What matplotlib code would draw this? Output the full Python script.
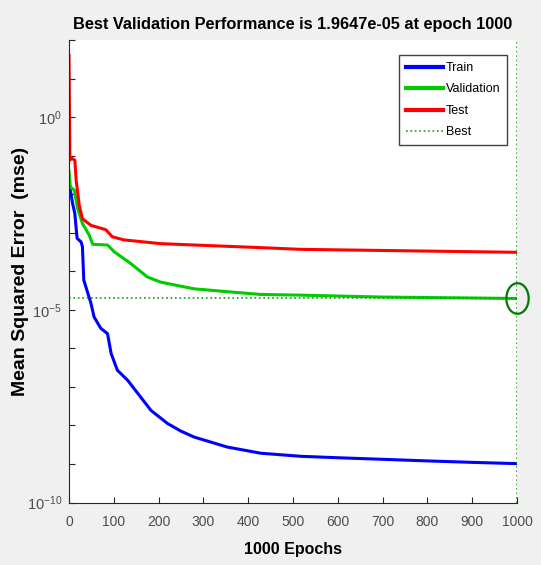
import matplotlib
matplotlib.use("Agg")
import matplotlib.pyplot as plt
import matplotlib.path as mpath
import numpy as np

plt.rcParams['font.family'] = ['Liberation Sans', 'DejaVu Sans']
plt.rcParams['mathtext.fontset'] = 'custom'
plt.rcParams['mathtext.rm'] = 'Liberation Sans'
plt.rcParams['mathtext.default'] = 'regular'

# values (epoch, mse)
train_epochs = [0, 3, 8, 13, 18, 27, 30, 33, 42, 49, 56, 71, 86, 94, 108, 131, 145,
                183, 220, 250, 279, 353, 428, 517, 600, 700, 800, 900, 1000]
train_mse = [2.0e-2, 1.26e-2, 5.75e-3, 3.16e-3, 7.2e-4, 5.75e-4, 4.3e-4, 5.9e-5,
             2.7e-5, 1.48e-5, 6.5e-6, 3.3e-6, 2.4e-6, 7.4e-7, 2.7e-7, 1.48e-7,
             9.1e-8, 2.45e-8, 1.12e-8, 7.1e-9, 5.0e-9, 2.75e-9, 1.9e-9, 1.58e-9,
             1.45e-9, 1.32e-9, 1.2e-9, 1.1e-9, 1.02e-9]

val_epochs = [0, 3, 12, 19, 30, 45, 53, 86, 101, 138, 175, 205, 279, 353, 428, 517,
              700, 1000]
val_mse = [4.0e-2, 1.55e-2, 1.26e-2, 4.3e-3, 1.74e-3, 8.7e-4, 5.0e-4, 4.8e-4, 3.2e-4,
           1.58e-4, 7.1e-5, 5.2e-5, 3.5e-5, 2.95e-5, 2.5e-5, 2.4e-5, 2.14e-5, 1.9647e-5]

test_epochs = [0, 2, 5, 13, 16, 23, 30, 49, 82, 97, 123, 205, 279, 428, 517, 1000]
test_mse = [40, 7.6e-2, 8.7e-2, 7.6e-2, 2.3e-2, 5.1e-3, 2.3e-3, 1.55e-3, 1.2e-3,
            7.8e-4, 6.5e-4, 5.2e-4, 4.8e-4, 4.1e-4, 3.7e-4, 3.1e-4]

best_epoch = 1000
best_perf = 1.9647e-05

fig = plt.figure(figsize=(5.41, 5.65), dpi=100, facecolor='#f0f0f0')
ax = fig.add_axes([69/541, 1-502.5/565, 448/541, 462.5/565])

ax.plot(train_epochs, train_mse, color='#0000ff', lw=2.2, label='Train')
ax.plot(val_epochs, val_mse, color='#00cc00', lw=2.2, label='Validation')
ax.plot(test_epochs, test_mse, color='#ff0000', lw=2.2, label='Test')
ax.plot([0, best_epoch], [best_perf, best_perf], ':', color='#1a9a1a', lw=1.2, label='Best')
ax.axvline(best_epoch, ls=':', color='#1a9a1a', lw=1.2)

# tall ellipse marker around the best point
t = np.linspace(0, 2*np.pi, 60)
ell = mpath.Path(np.column_stack([0.73*np.cos(t), np.sin(t)]))
ax.plot([best_epoch], [best_perf], marker=ell, mfc='none', mec='#007a00', ms=22,
        mew=1.6, clip_on=False)

ax.set_yscale('log')
ax.set_xlim(0, 1000)
ax.set_ylim(1e-10, 1e2)
ax.set_xticks(np.arange(0, 1001, 100))
ax.set_yticks([10.0**k for k in range(-10, 3)])
ax.set_yticklabels(['$10^{%d}$' % k if k in (-10, -5, 0) else '' for k in range(-10, 3)])
ax.minorticks_off()
ax.tick_params(direction='in', length=4, colors='#262626', labelcolor='#4d4d4d',
               labelsize=10)
ax.tick_params(axis='x', pad=9)
ax.tick_params(axis='y', pad=5, labelsize=10.5)
for s in ('top', 'right'):
    ax.spines[s].set_visible(False)
for s in ('left', 'bottom'):
    ax.spines[s].set_color('#262626')

ax.set_title('Best Validation Performance is 1.9647e-05 at epoch 1000',
             fontsize=11.8, fontweight='bold', pad=8)
ax.set_xlabel('1000 Epochs', fontsize=11.5, fontweight='bold')
ax.set_ylabel('Mean Squared Error  (mse)', fontsize=14, fontweight='bold')
ax.xaxis.set_label_coords(0.5, -0.085)
ax.yaxis.set_label_coords(-0.09, 0.5)

leg = ax.legend(loc='upper right', bbox_to_anchor=(0.978, 0.9675), fontsize=9,
                fancybox=False, edgecolor='#404040', framealpha=1,
                handlelength=3.0, handletextpad=0.2, labelspacing=0.76,
                borderpad=0.55, borderaxespad=0)
leg.get_frame().set_linewidth(1.0)
for h in leg.get_lines()[:3]:
    h.set_linewidth(3)

fig.savefig('out.png', dpi=100, facecolor=fig.get_facecolor())
